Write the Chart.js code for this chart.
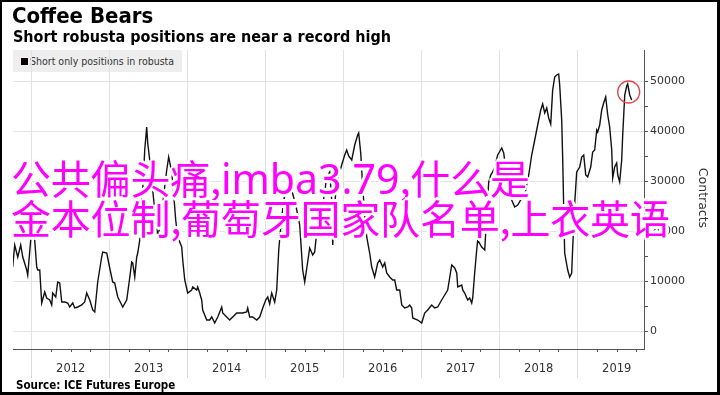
<!DOCTYPE html>
<html lang="en">
<head>
    <meta charset="UTF-8">
    <title>Coffee Bears</title>
    <script src="https://cdn.jsdelivr.net/npm/chart.js"></script>
    <style>
        body { margin: 0; width: 720px; height: 395px; overflow: hidden; background: #fff; position: relative; }
        .cond { font-family: "DejaVu Sans Condensed", "DejaVu Sans", sans-serif; font-stretch: condensed; }
        #frame { position: absolute; left: 0; top: 0; width: 720px; height: 395px; box-sizing: border-box;
                 border: 2px solid #000; border-right-width: 3px; border-bottom-width: 3px; z-index: 5; pointer-events: none; }
        #title { position: absolute; left: 12px; top: 3px; font-weight: bold; font-size: 22px; color: #000; z-index: 3; }
        #subtitle { position: absolute; left: 13px; top: 27px; font-weight: bold; font-size: 16px; color: #000; z-index: 3; }
        #legend { position: absolute; left: 13px; top: 50px; width: 169px; height: 22px; background: #eeeeee; z-index: 1;
                  font-size: 10.5px; color: #333; line-height: 22px; }
        #legend span.box { display: inline-block; width: 7px; height: 7px; background: #000; margin: 0 2px 0 8px; vertical-align: 0px; }
        #chart { position: absolute; left: 0; top: 0; z-index: 2; }
        #ytitle { position: absolute; left: 703px; top: 198px; transform: translate(-50%, -50%) rotate(90deg);
                  font-family: "DejaVu Sans", sans-serif; font-size: 12.5px; color: #333; z-index: 3; white-space: nowrap; }
        #source { position: absolute; left: 16px; top: 378px; font-weight: bold; font-size: 11.5px; color: #000; z-index: 3; }
        #overlay { position: absolute; left: 11px; top: 158px; z-index: 4; font-family: "Noto Sans CJK SC", sans-serif;
                   font-size: 40px; line-height: 39px; color: #ff00ff; white-space: nowrap; letter-spacing: -0.2px;
                   text-shadow: 2px 0 #fff, -2px 0 #fff, 0 2px #fff, 0 -2px #fff,
                                1.5px 1.5px #fff, -1.5px 1.5px #fff, 1.5px -1.5px #fff, -1.5px -1.5px #fff,
                                3px 0 #fff, -3px 0 #fff, 0 3px #fff, 0 -3px #fff; }
        #overlay .lat { font-family: "Noto Sans", sans-serif; font-size: 41px; letter-spacing: 0px; }
    </style>
</head>
<body>
    <div id="title" class="cond">Coffee Bears</div>
    <div id="subtitle" class="cond">Short robusta positions are near a record high</div>
    <div id="legend" class="cond"><span class="box"></span><span id="legend-text"></span></div>
    <canvas id="chart" width="720" height="395"></canvas>
    <div id="ytitle">Contracts</div>
    <div id="source" class="cond">Source: ICE Futures Europe</div>
    <div id="overlay">公共偏头痛,<span class="lat">imba3.79</span>,什么是<br>金本位制,葡萄牙国家队名单,上衣英语</div>
    <div id="frame"></div>

    <script>
        const seriesLabel = 'Short only positions in robusta';
        const yearTicks = [2012, 2013, 2014, 2015, 2016, 2017, 2018, 2019];
        const valueTicks = [0, 5000, 10000, 15000, 20000, 25000, 30000, 35000, 40000, 45000, 50000];

        // weekly-ish reading dates as decimal years
        const dates = [
            2011.756, 2011.782, 2011.821, 2011.859, 2011.885, 2011.936, 2011.949, 2011.987, 2012.013, 2012.038,
            2012.064, 2012.077, 2012.103, 2012.128, 2012.167, 2012.192, 2012.231, 2012.256, 2012.269, 2012.308,
            2012.333, 2012.359, 2012.385, 2012.423, 2012.462, 2012.487, 2012.526, 2012.551, 2012.590, 2012.641,
            2012.679, 2012.705, 2012.744, 2012.782, 2012.808, 2012.846, 2012.897, 2012.910, 2012.962, 2013.000,
            2013.038, 2013.064, 2013.103, 2013.154, 2013.167, 2013.218, 2013.256, 2013.282, 2013.295, 2013.321,
            2013.346, 2013.359, 2013.385, 2013.423, 2013.449, 2013.474, 2013.487, 2013.513, 2013.538, 2013.577,
            2013.615, 2013.654, 2013.692, 2013.731, 2013.756, 2013.795, 2013.821, 2013.846, 2013.872, 2013.923,
            2013.936, 2013.962, 2014.000, 2014.051, 2014.064, 2014.115, 2014.128, 2014.154, 2014.179, 2014.192,
            2014.244, 2014.282, 2014.308, 2014.346, 2014.385, 2014.436, 2014.449, 2014.500, 2014.538, 2014.577,
            2014.628, 2014.667, 2014.705, 2014.756, 2014.769, 2014.795, 2014.833, 2014.885, 2014.923, 2014.962,
            2015.000, 2015.026, 2015.051, 2015.077, 2015.115, 2015.141, 2015.167, 2015.192, 2015.231, 2015.282,
            2015.333, 2015.385, 2015.436, 2015.474, 2015.500, 2015.538, 2015.564, 2015.603, 2015.628, 2015.654,
            2015.692, 2015.731, 2015.756, 2015.782, 2015.821, 2015.846, 2015.859, 2015.885, 2015.910, 2015.949,
            2015.974, 2016.013, 2016.038, 2016.064, 2016.103, 2016.141, 2016.179, 2016.192, 2016.218, 2016.244,
            2016.269, 2016.295, 2016.333, 2016.359, 2016.397, 2016.436, 2016.462, 2016.500, 2016.526, 2016.551,
            2016.590, 2016.628, 2016.654, 2016.679, 2016.718, 2016.744, 2016.782, 2016.821, 2016.846, 2016.872,
            2016.885, 2016.949, 2017.000, 2017.038, 2017.077, 2017.128, 2017.167, 2017.205, 2017.256, 2017.295,
            2017.333, 2017.385, 2017.423, 2017.449, 2017.462, 2017.513, 2017.526, 2017.551, 2017.590, 2017.615,
            2017.641, 2017.654, 2017.679, 2017.705, 2017.718, 2017.769, 2017.808, 2017.833, 2017.859, 2017.885,
            2017.910, 2017.936, 2017.974, 2018.026, 2018.051, 2018.077, 2018.115, 2018.154, 2018.192, 2018.231,
            2018.269, 2018.321, 2018.372, 2018.410, 2018.449, 2018.487, 2018.526, 2018.551, 2018.577, 2018.603,
            2018.628, 2018.654, 2018.679, 2018.705, 2018.731, 2018.756, 2018.769, 2018.795, 2018.808, 2018.821,
            2018.833, 2018.872, 2018.897, 2018.923, 2018.936, 2018.962, 2018.987, 2019.026, 2019.051, 2019.077,
            2019.103, 2019.128, 2019.167, 2019.192, 2019.218, 2019.244, 2019.256, 2019.282, 2019.308, 2019.333,
            2019.359, 2019.385, 2019.410, 2019.436, 2019.449, 2019.474, 2019.500, 2019.513, 2019.538, 2019.564,
            2019.577, 2019.603, 2019.628, 2019.641, 2019.667, 2019.692
        ];

        // short only positions (contracts)
        const shorts = [
            12800, 17200, 14800, 17200, 14800, 12200, 11200, 18200, 25200, 18200,
            12800, 12200, 12200, 5600, 7800, 6600, 6200, 5200, 7600, 6800,
            9800, 9600, 5800, 5800, 5600, 4800, 5600, 4600, 4800, 5200,
            5800, 7600, 6200, 4200, 3800, 9800, 14800, 15800, 15600, 12600,
            9800, 9600, 6800, 5200, 4800, 6200, 10600, 13800, 13600, 10800,
            14800, 15600, 18200, 28200, 36200, 40800, 37600, 34200, 30200, 24200,
            19200, 21200, 27200, 32200, 34800, 31800, 27200, 22200, 18800, 16800,
            14200, 10200, 7600, 8200, 8800, 8200, 8800, 7600, 6200, 4200,
            2200, 2200, 2800, 1600, 2800, 4800, 3600, 2800, 2200, 2800,
            3600, 3600, 3600, 3800, 4600, 2800, 2800, 2200, 2800, 4600,
            6200, 6800, 5400, 7600, 5800, 8200, 16200, 20600, 26200, 29200,
            28200, 25200, 21200, 12200, 9800, 13800, 16600, 15200, 15800, 19800,
            21000, 25200, 27800, 30800, 31800, 26200, 17200, 25200, 30200, 31800,
            33200, 35200, 36200, 35000, 34200, 37200, 39200, 39600, 35600, 28800,
            23200, 18800, 15600, 12800, 10800, 13600, 14200, 12800, 13600, 11600,
            10800, 10200, 10200, 8200, 8200, 5200, 4600, 4800, 5200, 4600,
            2600, 2200, 1600, 3600, 4200, 5200, 4600, 4800, 6200, 7200,
            8200, 13200, 12600, 11600, 8800, 9200, 8200, 7600, 6200, 6600,
            5600, 6600, 11600, 16200, 18200, 16800, 16200, 23200, 29800, 31200,
            31800, 32800, 35200, 36600, 35600, 32600, 29200, 26200, 24800, 25200,
            26200, 27200, 31200, 35200, 38200, 41200, 44200, 45400, 43600, 44600,
            42600, 41400, 48200, 50800, 51200, 51400, 49200, 42200, 34200, 24200,
            15600, 12200, 10800, 11600, 16800, 25600, 31800, 32800, 34800, 35200,
            31200, 30800, 32800, 35800, 36200, 40200, 39800, 41200, 44200, 45600,
            46800, 43200, 40800, 36200, 30600, 32800, 33600, 31200, 29800, 34200,
            39200, 47200, 49000, 49400, 47200, 46200
        ];

        // the latest record-high reading gets a red ring
        const highlightIndex = shorts.length - 3;

        document.getElementById('legend-text').textContent = seriesLabel;

        const minorTicks = {
            id: 'minorTicks',
            afterDraw(chart) {
                const x = chart.scales.x, c = chart.ctx;
                c.save();
                c.strokeStyle = '#555';
                c.lineWidth = 1;
                for (let yr = 2011; yr <= 2019; yr++) {
                    for (const q of [0.25, 0.5, 0.75]) {
                        const v = yr + q;
                        if (v < x.min || v > x.max) continue;
                        const px = Math.round(x.getPixelForValue(v)) + 0.5;
                        c.beginPath();
                        c.moveTo(px, x.top);
                        c.lineTo(px, x.top + 3);
                        c.stroke();
                    }
                }
                c.restore();
            }
        };

        const ring = {
            id: 'ring',
            afterDatasetsDraw(chart) {
                const pt = chart.getDatasetMeta(0).data[highlightIndex];
                const c = chart.ctx;
                c.save();
                c.strokeStyle = '#e0474c';
                c.lineWidth = 1.3;
                c.beginPath();
                c.arc(pt.x + 1, pt.y + 8, 11, 0, Math.PI * 2);
                c.stroke();
                c.restore();
            }
        };

        new Chart(document.getElementById('chart'), {
            type: 'line',
            data: {
                datasets: [{
                    label: seriesLabel,
                    data: dates.map((d, i) => ({ x: d, y: shorts[i] })),
                    borderColor: '#111',
                    borderWidth: 1.4,
                    pointRadius: 0,
                    tension: 0,
                    fill: false
                }]
            },
            options: {
                responsive: false,
                animation: false,
                devicePixelRatio: 1,
                layout: { padding: { left: 13, top: 50, right: 16, bottom: 16 } },
                plugins: { legend: { display: false }, tooltip: { enabled: false } },
                scales: {
                    x: {
                        type: 'linear',
                        min: 2011.76,
                        max: 2019.85,
                        afterBuildTicks: s => { s.ticks = yearTicks.map(v => ({ value: v })); },
                        afterFit: s => { s.height = 30; },
                        grid: { color: '#e2e2e2', tickColor: '#dcdcdc', tickLength: 29 },
                        border: { display: true, color: '#555' },
                        ticks: {
                            autoSkip: false, maxRotation: 0, labelOffset: 39, padding: -16,
                            color: '#333', font: { family: 'DejaVu Sans', size: 11.5 },
                            callback: v => String(v)
                        }
                    },
                    y: {
                        position: 'right',
                        min: -3600,
                        max: 56200,
                        afterBuildTicks: s => { s.ticks = valueTicks.map(v => ({ value: v })); },
                        afterFit: s => { s.width = 60; },
                        grid: {
                            color: ctx => (ctx.tick && ctx.tick.value % 10000 === 0) ? '#e4e4e4' : 'rgba(0,0,0,0)',
                            tickColor: '#555', tickLength: 4
                        },
                        border: { display: true, color: '#555' },
                        ticks: {
                            padding: 2, color: '#333', font: { family: 'DejaVu Sans', size: 11 },
                            callback: v => v % 10000 === 0 ? String(v) : ''
                        }
                    }
                }
            },
            plugins: [minorTicks, ring]
        });
    </script>
</body>
</html>
